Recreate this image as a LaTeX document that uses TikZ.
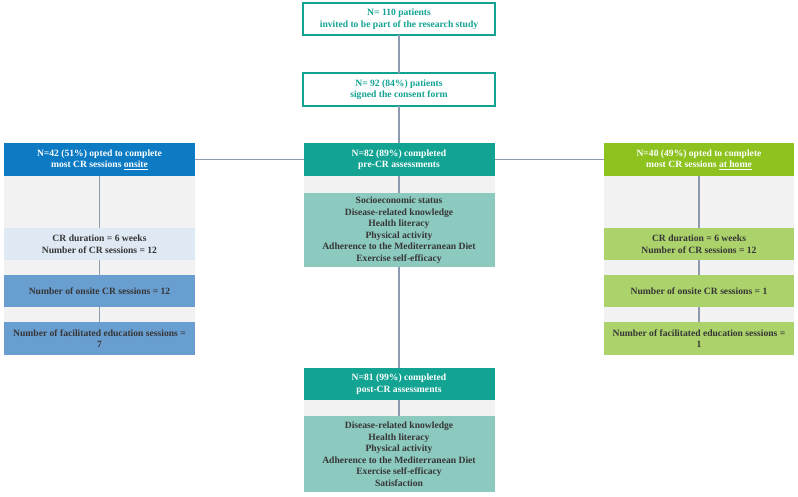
\documentclass[tikz,border=0pt]{standalone}
\usepackage{fontspec}
\setmainfont{Liberation Serif}
\definecolor{tealH}{HTML}{12A393}
\definecolor{tealC}{HTML}{8CC9BF}
\definecolor{blueH}{HTML}{0C7BC4}
\definecolor{blueL}{HTML}{DEE9F4}
\definecolor{blueM}{HTML}{699ED1}
\definecolor{greenH}{HTML}{8DC21F}
\definecolor{greenL}{HTML}{ACD26B}
\definecolor{grayS}{HTML}{F2F2F2}
\definecolor{txt}{HTML}{363636}
\definecolor{lineC}{HTML}{8E9AAF}
\tikzset{
  base/.style={rectangle,inner sep=0pt,outer sep=0pt,align=center,font=\fontsize{9.6}{11.5}\selectfont\bfseries},
  outlinebox/.style={base,draw=tealH,line width=1.3pt,fill=white,text=tealH},
  hdr/.style={base,text=white},
  cbox/.style={base,text=txt},
  strip/.style={base,fill=grayS},
  conn/.style={draw=lineC,line width=1.4pt}
}
\begin{document}
\begin{tikzpicture}[x=1pt,y=-1pt]
\useasboundingbox (0,0) rectangle (798,497);
% center column
\node[outlinebox,minimum width=192pt,minimum height=32pt] (top) at (399,19) {N= 110 patients\\invited to be part of the research study};
\node[outlinebox,minimum width=192pt,minimum height=33pt] (consent) at (399,89.5) {N= 92 (84\%) patients\\signed the consent form};
\node[hdr,fill=tealH,minimum width=191pt,minimum height=33pt] (pre) at (399,159.5) {N=82 (89\%) completed\\pre-CR assessments};
\node[strip,minimum width=191pt,minimum height=17pt] (pregray) at (399,184.5) {};
\node[cbox,fill=tealC,minimum width=191pt,minimum height=74pt] (prec) at (399,230) {Socioeconomic status\\Disease-related knowledge\\Health literacy\\Physical activity\\Adherence to the Mediterranean Diet\\Exercise self-efficacy};
\node[hdr,fill=tealH,minimum width=191pt,minimum height=32pt] (post) at (399,384) {N=81 (99\%) completed\\post-CR assessments};
\node[strip,minimum width=191pt,minimum height=16pt] (postgray) at (399,408) {};
\node[cbox,fill=tealC,minimum width=191pt,minimum height=76pt] (postc) at (399,454) {Disease-related knowledge\\Health literacy\\Physical activity\\Adherence to the Mediterranean Diet\\Exercise self-efficacy\\Satisfaction};
% left column
\node[hdr,fill=blueH,minimum width=191pt,minimum height=33pt] (lh) at (99.5,159.5) {N=42 (51\%) opted to complete\\most CR sessions \underline{onsite}};
\node[strip,minimum width=191pt,minimum height=52pt] (lg1) at (99.5,202) {};
\node[cbox,fill=blueL,minimum width=191pt,minimum height=32pt] (lb1) at (99.5,244) {CR duration = 6 weeks\\Number of CR sessions = 12};
\node[strip,minimum width=191pt,minimum height=15pt] (lg2) at (99.5,267.5) {};
\node[cbox,fill=blueM,minimum width=191pt,minimum height=32pt] (lb2) at (99.5,291) {Number of onsite CR sessions = 12};
\node[strip,minimum width=191pt,minimum height=15pt] (lg3) at (99.5,314.5) {};
\node[cbox,fill=blueM,minimum width=191pt,minimum height=33pt] (lb3) at (99.5,338.5) {Number of facilitated education sessions =\\7};
% right column
\node[hdr,fill=greenH,minimum width=190pt,minimum height=33pt] (rh) at (699,159.5) {N=40 (49\%) opted to complete\\most CR sessions \underline{at home}};
\node[strip,minimum width=190pt,minimum height=52pt] (rg1) at (699,202) {};
\node[cbox,fill=greenL,minimum width=190pt,minimum height=32pt] (rb1) at (699,244) {CR duration = 6 weeks\\Number of CR sessions = 12};
\node[strip,minimum width=190pt,minimum height=15pt] (rg2) at (699,267.5) {};
\node[cbox,fill=greenL,minimum width=190pt,minimum height=32pt] (rb2) at (699,291) {Number of onsite CR sessions = 1};
\node[strip,minimum width=190pt,minimum height=15pt] (rg3) at (699,314.5) {};
\node[cbox,fill=greenL,minimum width=190pt,minimum height=33pt] (rb3) at (699,338.5) {Number of facilitated education sessions =\\1};
% connectors
\draw[conn] (top) -- (consent);
\draw[conn] (consent) -- (pre);
\draw[conn] (pre) -- (prec);
\draw[conn] (prec) -- (post);
\draw[conn] (post) -- (postc);
\draw[conn] (lh) -- (pre);
\draw[conn] (pre) -- (rh);
\draw[conn] (lh) -- (lb1);
\draw[conn] (lb1) -- (lb2);
\draw[conn] (lb2) -- (lb3);
\draw[conn] (rh) -- (rb1);
\draw[conn] (rb1) -- (rb2);
\draw[conn] (rb2) -- (rb3);
\end{tikzpicture}
\end{document}
